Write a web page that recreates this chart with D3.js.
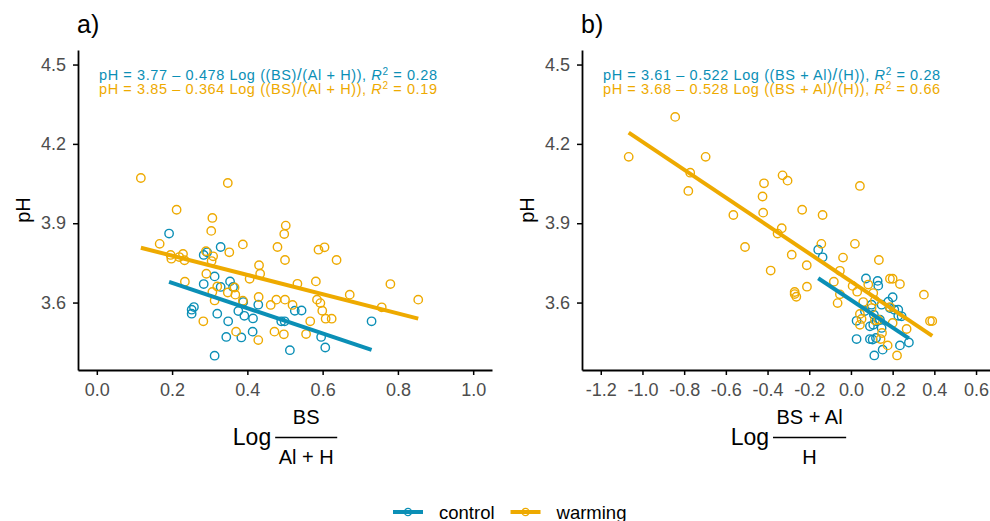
<!DOCTYPE html>
<html>
<head>
<meta charset="utf-8">
<script src="https://cdn.jsdelivr.net/npm/d3@7"></script>
<style>
  body { margin: 0; background: #fff; }
  text { font-family: "Liberation Sans", Arial, sans-serif; }
</style>
</head>
<body>
<svg id="chart" width="990" height="521"></svg>
<script>
// ---- data ----
const groups = ["control", "warming"];
const groupColors = ["#0b8fb6", "#eeaa00"];

const yTicks = [3.6, 3.9, 4.2, 4.5];
const aTicks = [0, 0.2, 0.4, 0.6, 0.8, 1.0];
const bTicks = [-1.2, -1.0, -0.8, -0.6, -0.4, -0.2, 0, 0.2, 0.4, 0.6];

// panel a : Log(BS/(Al+H)) vs pH
const aControlX = [0.192,0.329,0.284,0.293,0.313,0.284,0.354,0.362,0.329,0.389,0.429,0.258,0.252,0.252,0.376,0.320,
  0.392,0.415,0.349,0.490,0.499,0.526,0.544,0.730,0.414,0.344,0.384,0.596,0.607,0.513,0.313];
const aControlY = [3.861,3.810,3.780,3.790,3.699,3.670,3.680,3.659,3.659,3.602,3.592,3.583,3.573,3.558,3.568,3.558,
  3.550,3.540,3.529,3.529,3.529,3.569,3.570,3.529,3.490,3.470,3.468,3.470,3.430,3.420,3.399];
const aWarmingX = [0.117,0.348,0.212,0.307,0.502,0.304,0.498,0.167,0.388,0.480,0.589,0.605,0.352,0.290,0.229,0.196,
  0.219,0.198,0.233,0.309,0.305,0.500,0.637,0.431,0.434,0.406,0.291,0.234,0.533,0.582,0.780,0.320,0.307,0.348,0.368,
  0.366,0.672,0.430,0.313,0.388,0.477,0.500,0.585,0.594,0.854,0.462,0.520,0.757,0.599,0.608,0.624,0.283,0.567,0.370,
  0.472,0.497,0.556,0.429];
const aWarmingY = [4.071,4.052,3.951,3.920,3.891,3.871,3.859,3.822,3.820,3.810,3.800,3.809,3.790,3.794,3.784,3.780,
  3.772,3.766,3.760,3.775,3.757,3.761,3.761,3.741,3.709,3.690,3.709,3.679,3.671,3.680,3.670,3.661,3.640,3.638,3.630,
  3.657,3.630,3.621,3.608,3.607,3.611,3.611,3.611,3.598,3.611,3.591,3.591,3.582,3.569,3.539,3.539,3.529,3.529,3.490,
  3.490,3.480,3.481,3.458];
const aIntercept = [3.77, 3.85];
const aSlope = [-0.478, -0.364];
const aR2 = ["0.28", "0.19"];

// panel b : Log((BS+Al)/H) vs pH
const bControlX = [-0.157,-0.136,0.072,0.128,0.131,0.200,0.179,0.147,0.099,0.227,0.187,0.243,0.110,0.067,0.027,0.091,
  0.147,0.107,0.027,0.091,0.120,0.152,0.112,0.235,0.278,0.208,0.139,0.123,0.227,0.104];
const bControlY = [3.800,3.771,3.691,3.682,3.664,3.620,3.603,3.592,3.592,3.573,3.579,3.548,3.554,3.568,3.531,3.510,
  3.504,3.516,3.462,3.462,3.466,3.422,3.400,3.438,3.449,3.573,3.535,3.529,3.550,3.460];
const bWarmingX = [-0.843,-1.066,-0.697,-0.771,-0.780,-0.328,-0.304,-0.417,-0.424,0.043,-0.421,-0.564,-0.234,-0.136,
  -0.332,-0.352,-0.508,-0.142,0.019,-0.284,-0.038,0.134,-0.212,-0.385,-0.053,-0.211,-0.270,-0.262,-0.270,-0.082,-0.064,
  -0.053,0.008,0.030,0.083,0.059,0.187,0.200,0.235,0.350,0.107,0.115,0.043,0.051,0.043,0.115,0.131,0.200,0.267,0.379,
  0.390,0.149,0.176,0.221,0.142,0.099,0.187];
const bWarmingY = [4.302,4.151,4.151,4.091,4.022,4.081,4.061,4.051,4.001,4.041,3.940,3.931,3.951,3.931,3.881,3.861,
  3.810,3.822,3.822,3.781,3.770,3.761,3.741,3.721,3.720,3.660,3.640,3.622,3.632,3.679,3.598,3.631,3.663,3.641,3.668,
  3.602,3.690,3.690,3.670,3.630,3.636,3.608,3.557,3.538,3.516,3.533,3.535,3.523,3.500,3.530,3.530,3.485,3.438,3.400,
  3.462,3.579,3.583];
const bIntercept = [3.61, 3.68];
const bSlope = [-0.522, -0.528];
const bR2 = ["0.28", "0.66"];

// ---- drawing ----
const svg = d3.select("#chart");
const axisColor = "#4d4d4d";

const y = d3.scaleLinear().domain([3.345, 4.555]).range([370, 50]);

function drawPanel(p) {
  const x = d3.scaleLinear().domain(p.xDomain).range(p.xRange);
  const g = svg.append("g");

  const clipId = "clip-" + p.id;
  svg.append("clipPath").attr("id", clipId)
    .append("rect")
    .attr("x", p.xRange[0]).attr("y", 50)
    .attr("width", p.xRange[1] - p.xRange[0]).attr("height", 320);

  // axes
  const yAxis = g.append("g")
    .attr("transform", "translate(" + p.xRange[0] + ",0)")
    .call(d3.axisLeft(y).tickValues(yTicks).tickFormat(d3.format(".1f"))
      .tickSize(5).tickSizeOuter(0).tickPadding(7));
  const xAxis = g.append("g")
    .attr("transform", "translate(0,370)")
    .call(d3.axisBottom(x).tickValues(p.xTicks).tickFormat(d3.format(".1f"))
      .tickSize(5).tickSizeOuter(0).tickPadding(8));
  [yAxis, xAxis].forEach((ax) => {
    ax.select(".domain").attr("stroke", "#000").attr("stroke-width", 1.8);
    ax.selectAll(".tick line").attr("stroke", "#000").attr("stroke-width", 1.5);
    ax.selectAll(".tick text").attr("fill", axisColor)
      .style("font-size", "18px").style("font-family", '"Liberation Sans", Arial, sans-serif');
  });
  xAxis.selectAll(".tick text").text((d) => d3.format(".1f")(d).replace("−", "-"));

  // points and fitted lines
  const plot = g.append("g").attr("clip-path", "url(#" + clipId + ")");
  p.series.forEach((s, i) => {
    const pts = d3.zip(s.x, s.y);
    plot.append("g").selectAll("circle")
      .data(pts)
      .enter()
      .append("circle")
      .attr("cx", (d) => x(d[0]))
      .attr("cy", (d) => y(d[1]))
      .attr("r", 4.2)
      .attr("fill", "none")
      .attr("stroke", groupColors[i])
      .attr("stroke-width", 1.4);
  });
  p.series.forEach((s, i) => {
    const ext = d3.extent(s.x);
    const fit = (v) => p.intercept[i] + p.slope[i] * v;
    plot.append("line")
      .attr("x1", x(ext[0])).attr("y1", y(fit(ext[0])))
      .attr("x2", x(ext[1])).attr("y2", y(fit(ext[1])))
      .attr("stroke", groupColors[i])
      .attr("stroke-width", 4);
  });

  // equations
  p.series.forEach((s, i) => {
    const t = g.append("text")
      .attr("x", p.xRange[0] + 21)
      .attr("y", 79.5 + i * 14)
      .attr("fill", groupColors[i])
      .style("font-size", "14.5px")
      .style("letter-spacing", "0.6px");
    t.append("tspan").text("pH = " + p.intercept[i].toFixed(2) + " \u2013 " +
      Math.abs(p.slope[i]).toFixed(3) + " Log ((" + p.num + ")");
    t.append("tspan").style("font-size", "17px").text("/");
    t.append("tspan").text("(" + p.den + ")), ");
    t.append("tspan").style("font-style", "italic").text("R");
    t.append("tspan").attr("dy", -5).style("font-size", "10px").text("2");
    t.append("tspan").attr("dy", 5).text(" = " + p.r2[i]);
  });

  // panel tag
  g.append("text")
    .attr("x", p.xRange[0] - 1)
    .attr("y", 33)
    .style("font-size", "25px")
    .text(p.tag);

  // y title
  g.append("text")
    .attr("transform", "translate(" + (p.xRange[0] - 48) + ",210) rotate(-90)")
    .attr("text-anchor", "middle")
    .style("font-size", "20px")
    .text("pH");

  // x title: Log + fraction
  const cx = (p.xRange[0] + Math.min(p.xRange[1], 995)) / 2;
  const tg = g.append("g");
  const logT = tg.append("text").style("font-size", "23px").text("Log");
  const numT = tg.append("text").attr("text-anchor", "middle").style("font-size", "20px").text(p.num);
  const denT = tg.append("text").attr("text-anchor", "middle").style("font-size", "20px").text(p.den);
  const lw = logT.node().getComputedTextLength();
  const fw = Math.max(numT.node().getComputedTextLength(), denT.node().getComputedTextLength()) + 7;
  const gap = 4;
  const x0 = cx - (lw + gap + fw) / 2;
  logT.attr("x", x0).attr("y", 445);
  numT.attr("x", x0 + lw + gap + fw / 2).attr("y", 423.5);
  denT.attr("x", x0 + lw + gap + fw / 2).attr("y", 463.5);
  tg.append("line")
    .attr("x1", x0 + lw + gap).attr("x2", x0 + lw + gap + fw)
    .attr("y1", 437.5).attr("y2", 437.5)
    .attr("stroke", "#000").attr("stroke-width", 1.5);
}

drawPanel({
  id: "a", tag: "a)",
  xDomain: [-0.05, 1.05], xRange: [78, 492], xTicks: aTicks,
  series: [{ x: aControlX, y: aControlY }, { x: aWarmingX, y: aWarmingY }],
  intercept: aIntercept, slope: aSlope, r2: aR2,
  num: "BS", den: "Al + H"
});

drawPanel({
  id: "b", tag: "b)",
  xDomain: [-1.29, 0.69], xRange: [582, 994.8], xTicks: bTicks,
  series: [{ x: bControlX, y: bControlY }, { x: bWarmingX, y: bWarmingY }],
  intercept: bIntercept, slope: bSlope, r2: bR2,
  num: "BS + Al", den: "H"
});

// legend
const legend = svg.append("g").attr("transform", "translate(393,512)");
let lx = 0;
groups.forEach((name, i) => {
  const item = legend.append("g").attr("transform", "translate(" + lx + ",0)");
  item.append("line").attr("x1", 0).attr("x2", 30).attr("y1", 0).attr("y2", 0)
    .attr("stroke", groupColors[i]).attr("stroke-width", 4);
  item.append("circle").attr("cx", 15).attr("cy", 0).attr("r", 3.6)
    .attr("fill", "none").attr("stroke", groupColors[i]).attr("stroke-width", 1.3);
  const t = item.append("text").attr("x", 46).attr("y", 6.5)
    .style("font-size", "18.5px").text(name);
  lx += 46 + t.node().getComputedTextLength() + 16;
});
</script>
</body>
</html>
